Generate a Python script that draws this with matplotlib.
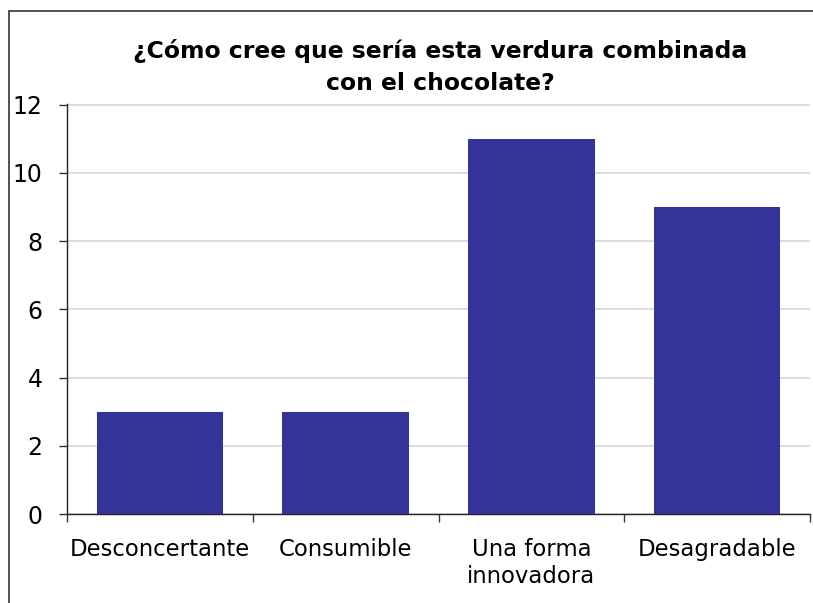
import matplotlib
matplotlib.use("Agg")
import matplotlib.pyplot as plt
from matplotlib.patches import Rectangle

categories = ["Desconcertante", "Consumible", "Una forma\ninnovadora", "Desagradable"]
counts = [3, 3, 11, 9]
yticks = [0, 2, 4, 6, 8, 10, 12]
title = "¿Cómo cree que sería esta verdura combinada\ncon el chocolate?"

plt.rcParams["font.family"] = ["DejaVu Sans"]

fig = plt.figure(figsize=(8.13, 6.03), dpi=100)
ax = fig.add_axes([67 / 813, 1 - 514 / 603, (810 - 67) / 813, (514 - 104) / 603])

# outer chart frame
fig.patches.append(Rectangle((9 / 813, -0.01), 1.0, 1 - 11 / 603 + 0.01,
                             transform=fig.transFigure, fill=False,
                             edgecolor="#333333", linewidth=1.2))

x = range(len(categories))
ax.bar(x, counts, width=0.68, color="#333399", zorder=3)

ax.set_xlim(-0.5, len(categories) - 0.5)
ax.set_ylim(0, 12.02)
ax.set_yticks(yticks)
ax.yaxis.grid(True, color="#d9d9d9", linewidth=1.3, zorder=0)
ax.set_axisbelow(True)

ax.set_xticks([i - 0.5 for i in range(len(categories) + 1)])
ax.set_xticklabels([])
ax.set_xticks(list(x), minor=True)
ax.set_xticklabels(categories, minor=True, fontsize=16.4, linespacing=1.25)
ax.tick_params(axis="x", which="minor", length=0, pad=17)
ax.tick_params(axis="x", which="major", length=5.5, width=1, color="#333333", direction="out")
ax.tick_params(axis="y", length=5.5, width=1, color="#333333", labelsize=17, pad=12)

for side in ["top", "right"]:
    ax.spines[side].set_visible(False)
for side in ["left", "bottom"]:
    ax.spines[side].set_color("#222222")
    ax.spines[side].set_linewidth(1)

fig.text(440 / 813, 1 - 67 / 603, title, ha="center", va="center",
         fontsize=16.9, fontweight="bold", linespacing=1.45)

fig.savefig("out.png", dpi=100)
